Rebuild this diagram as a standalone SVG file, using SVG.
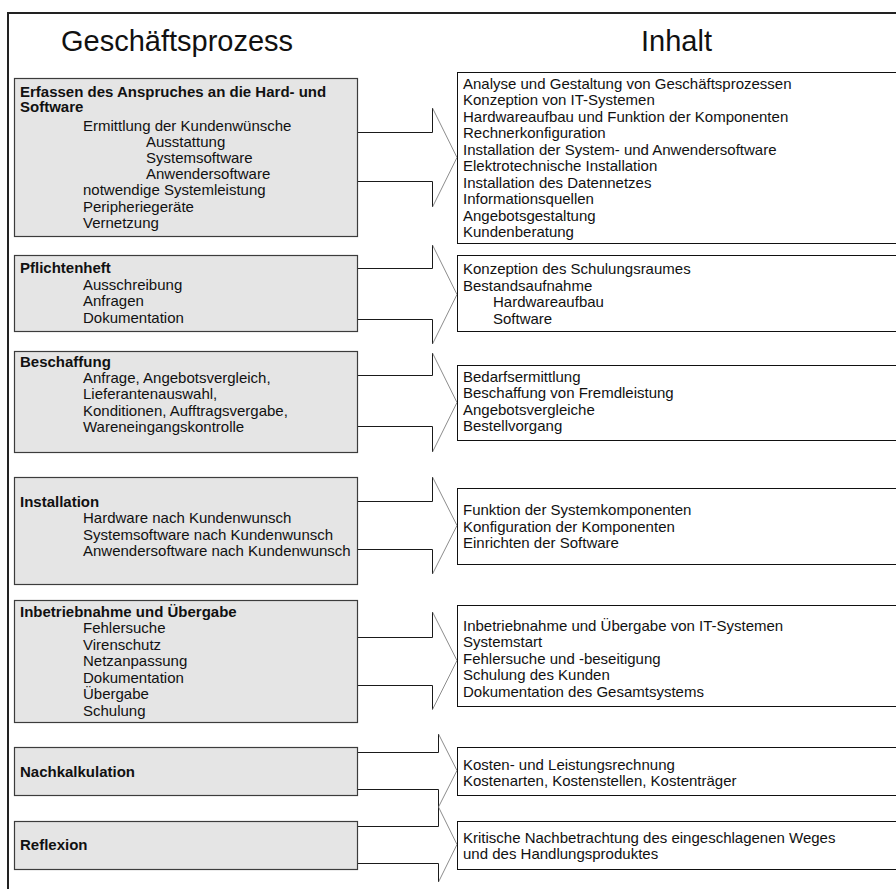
<svg xmlns="http://www.w3.org/2000/svg" width="896" height="889" viewBox="0 0 896 889">
  <style>
    text { font-family: "Liberation Sans", Arial, Helvetica, sans-serif; font-size: 15px; fill: #111; }
    .h { font-size: 29px; }
    .b { font-weight: bold; }
    .proc rect { fill: #e5e5e5; stroke: #3c3c3c; stroke-width: 1.2; }
    .inh rect { fill: #ffffff; stroke: #111; stroke-width: 1; }
    .shaft { fill: none; stroke: #1a1a1a; stroke-width: 1; }
    .head { fill: none; stroke: #6e6e6e; stroke-width: 0.8; }
    .frame { fill: none; stroke: #222; stroke-width: 2; }
  </style>

  <rect x="0" y="0" width="896" height="889" fill="#ffffff"/>

  <!-- page frame -->
  <path class="frame" d="M8,889 V13 H896"/>

  <!-- column headings -->
  <text class="h" x="61" y="51">Geschäftsprozess</text>
  <text class="h" x="641" y="51">Inhalt</text>

  <!-- block arrows from each process step to its content -->
  <g id="connectors">
    <g id="arrow-1">
      <path class="shaft" d="M350,132.5 H432.5 V108 M350,181.5 H432.5 V207"/>
      <path class="head" d="M432.5,108 L457,157.5 L432.5,207"/>
    </g>
    <g id="arrow-2">
      <path class="shaft" d="M350,268.5 H432.5 V245 M350,319.5 H432.5 V344"/>
      <path class="head" d="M432.5,245 L457,294.5 L432.5,344"/>
    </g>
    <g id="arrow-3">
      <path class="shaft" d="M350,375.5 H432.5 V353 M350,426.5 H432.5 V452"/>
      <path class="head" d="M432.5,353 L457,402.5 L432.5,452"/>
    </g>
    <g id="arrow-4">
      <path class="shaft" d="M350,501.5 H432.5 V477 M350,549.5 H432.5 V574"/>
      <path class="head" d="M432.5,477 L457,525.5 L432.5,574"/>
    </g>
    <g id="arrow-5">
      <path class="shaft" d="M350,637.5 H432.5 V612 M350,685.5 H432.5 V709.5"/>
      <path class="head" d="M432.5,612 L457,660.5 L432.5,709.5"/>
    </g>
    <g id="arrow-6">
      <path class="shaft" d="M350,752.5 H438.5 V734 M350,789.5 H438.5 V807"/>
      <path class="head" d="M438.5,734 L457,770.5 L438.5,807"/>
    </g>
    <g id="arrow-7">
      <path class="shaft" d="M350,826.5 H438.5 V807 M350,863.5 H438.5 V882"/>
      <path class="head" d="M438.5,807 L457,844.5 L438.5,882"/>
    </g>
  </g>

  <!-- process steps (left column) -->
  <g id="step-anforderungen" class="proc">
    <rect x="14.5" y="78.5" width="343" height="158"/>
    <text class="b" x="20" y="96.5">Erfassen des Anspruches an die Hard- und</text>
    <text class="b" x="20" y="112">Software</text>
    <text x="83" y="130.5">Ermittlung der Kundenwünsche</text>
    <text x="146" y="146.7">Ausstattung</text>
    <text x="146" y="162.9">Systemsoftware</text>
    <text x="146" y="179.1">Anwendersoftware</text>
    <text x="83" y="195.3">notwendige Systemleistung</text>
    <text x="83" y="211.5">Peripheriegeräte</text>
    <text x="83" y="227.7">Vernetzung</text>
  </g>

  <g id="step-pflichtenheft" class="proc">
    <rect x="14.5" y="255.5" width="343" height="76"/>
    <text class="b" x="20" y="273">Pflichtenheft</text>
    <text x="83" y="289.5">Ausschreibung</text>
    <text x="83" y="306">Anfragen</text>
    <text x="83" y="322.5">Dokumentation</text>
  </g>

  <g id="step-beschaffung" class="proc">
    <rect x="14.5" y="351.5" width="343" height="101"/>
    <text class="b" x="20" y="366.5">Beschaffung</text>
    <text x="83" y="382.5">Anfrage, Angebotsvergleich,</text>
    <text x="83" y="399">Lieferantenauswahl,</text>
    <text x="83" y="415.5">Konditionen, Aufftragsvergabe,</text>
    <text x="83" y="432">Wareneingangskontrolle</text>
  </g>

  <g id="step-installation" class="proc">
    <rect x="14.5" y="477.5" width="343" height="107"/>
    <text class="b" x="20" y="506.5">Installation</text>
    <text x="83" y="523">Hardware nach Kundenwunsch</text>
    <text x="83" y="539.5">Systemsoftware nach Kundenwunsch</text>
    <text x="83" y="556">Anwendersoftware nach Kundenwunsch</text>
  </g>

  <g id="step-inbetriebnahme" class="proc">
    <rect x="14.5" y="600.5" width="343" height="122"/>
    <text class="b" x="20" y="616.5">Inbetriebnahme und Übergabe</text>
    <text x="83" y="633">Fehlersuche</text>
    <text x="83" y="649.5">Virenschutz</text>
    <text x="83" y="666">Netzanpassung</text>
    <text x="83" y="682.5">Dokumentation</text>
    <text x="83" y="699">Übergabe</text>
    <text x="83" y="715.5">Schulung</text>
  </g>

  <g id="step-nachkalkulation" class="proc">
    <rect x="14.5" y="747.5" width="343" height="48"/>
    <text class="b" x="20" y="776.5">Nachkalkulation</text>
  </g>

  <g id="step-reflexion" class="proc">
    <rect x="14.5" y="821.5" width="343" height="48"/>
    <text class="b" x="20" y="850">Reflexion</text>
  </g>

  <!-- contents (right column, boxes run past the page edge) -->
  <g id="inhalt-anforderungen" class="inh">
    <rect x="457.5" y="72.5" width="460" height="171"/>
    <text x="463" y="88.5">Analyse und Gestaltung von Geschäftsprozessen</text>
    <text x="463" y="105">Konzeption von IT-Systemen</text>
    <text x="463" y="121.5">Hardwareaufbau und Funktion der Komponenten</text>
    <text x="463" y="138">Rechnerkonfiguration</text>
    <text x="463" y="154.5">Installation der System- und Anwendersoftware</text>
    <text x="463" y="171">Elektrotechnische Installation</text>
    <text x="463" y="187.5">Installation des Datennetzes</text>
    <text x="463" y="204">Informationsquellen</text>
    <text x="463" y="220.5">Angebotsgestaltung</text>
    <text x="463" y="237">Kundenberatung</text>
  </g>

  <g id="inhalt-pflichtenheft" class="inh">
    <rect x="457.5" y="255.5" width="460" height="76"/>
    <text x="463" y="274">Konzeption des Schulungsraumes</text>
    <text x="463" y="290.5">Bestandsaufnahme</text>
    <text x="493" y="307">Hardwareaufbau</text>
    <text x="493" y="323.5">Software</text>
  </g>

  <g id="inhalt-beschaffung" class="inh">
    <rect x="457.5" y="365.5" width="460" height="75"/>
    <text x="463" y="381.5">Bedarfsermittlung</text>
    <text x="463" y="398">Beschaffung von Fremdleistung</text>
    <text x="463" y="414.5">Angebotsvergleiche</text>
    <text x="463" y="431">Bestellvorgang</text>
  </g>

  <g id="inhalt-installation" class="inh">
    <rect x="457.5" y="488.5" width="460" height="76"/>
    <text x="463" y="515">Funktion der Systemkomponenten</text>
    <text x="463" y="531.5">Konfiguration der Komponenten</text>
    <text x="463" y="548">Einrichten der Software</text>
  </g>

  <g id="inhalt-inbetriebnahme" class="inh">
    <rect x="457.5" y="605.5" width="460" height="101"/>
    <text x="463" y="630.5">Inbetriebnahme und Übergabe von IT-Systemen</text>
    <text x="463" y="647">Systemstart</text>
    <text x="463" y="663.5">Fehlersuche und -beseitigung</text>
    <text x="463" y="680">Schulung des Kunden</text>
    <text x="463" y="696.5">Dokumentation des Gesamtsystems</text>
  </g>

  <g id="inhalt-nachkalkulation" class="inh">
    <rect x="457.5" y="747.5" width="460" height="48"/>
    <text x="463" y="769.5">Kosten- und Leistungsrechnung</text>
    <text x="463" y="785.5">Kostenarten, Kostenstellen, Kostenträger</text>
  </g>

  <g id="inhalt-reflexion" class="inh">
    <rect x="457.5" y="821.5" width="460" height="48"/>
    <text x="463" y="843">Kritische Nachbetrachtung des eingeschlagenen Weges</text>
    <text x="463" y="858.5">und des Handlungsproduktes</text>
  </g>
</svg>
